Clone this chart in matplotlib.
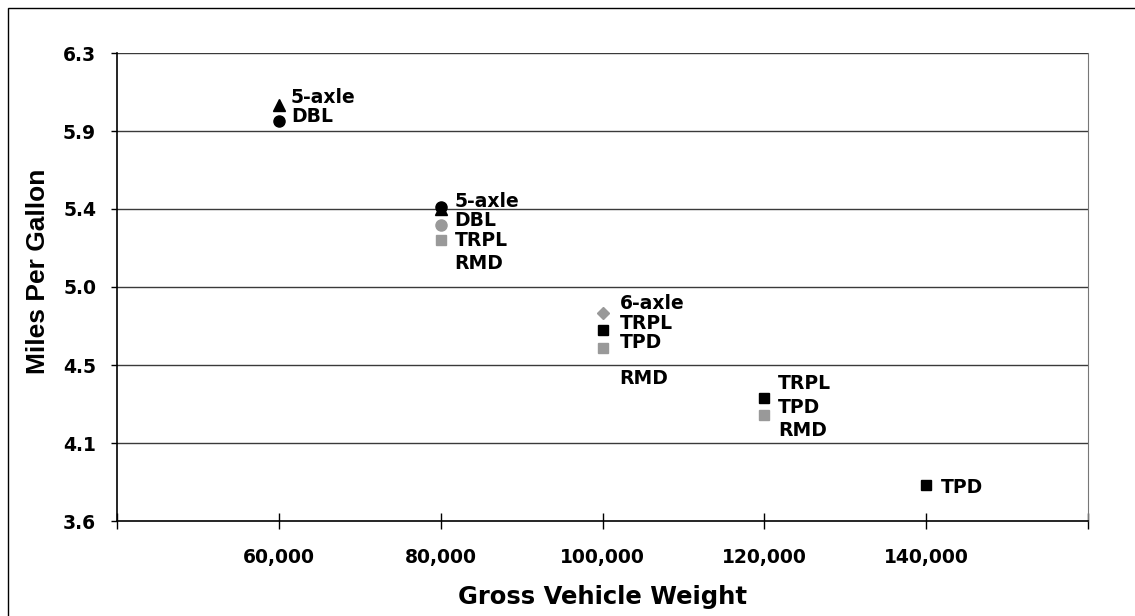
import matplotlib
matplotlib.use("Agg")
import matplotlib.pyplot as plt
import matplotlib.patches as patches
import numpy as np

plt.rcParams['font.family'] = ['DejaVu Sans']
plt.rcParams['font.weight'] = 'bold'

# data (mpg by gross vehicle weight)
tri_black_x = [60000, 80000]
tri_black_y = [6.00, 5.40]
circ_black_x = [60000, 80000]
circ_black_y = [5.91, 5.41]
circ_gray_x = [80000]
circ_gray_y = [5.31]
sq_gray_x = [80000, 100000, 120000]
sq_gray_y = [5.22, 4.60, 4.21]
sq_black_x = [100000, 120000, 140000]
sq_black_y = [4.70, 4.31, 3.81]
dia_gray_x = [100000]
dia_gray_y = [4.80]

label_weights = [60000, 80000, 100000, 120000, 140000]
label_texts = [
    ["5-axle", "DBL"],
    ["5-axle", "DBL", "TRPL", "RMD"],
    ["6-axle", "TRPL", "TPD", "RMD"],
    ["TRPL", "TPD", "RMD"],
    ["TPD"],
]

x_ticks = [40000, 60000, 80000, 100000, 120000, 140000, 160000]
x_tick_labels = ["", "60,000", "80,000", "100,000", "120,000", "140,000", ""]
y_tick_labels = ["3.6", "4.1", "4.5", "5.0", "5.4", "5.9", "6.3"]

# where the stacked labels sit (y in mpg units), layout only
label_anchor_y = [
    [6.046, 5.931],
    [5.442, 5.331, 5.221, 5.083],
    [4.852, 4.742, 4.628, 4.425],
    [4.396, 4.253, 4.125],
    [3.796],
]
label_dx = [12, 14, 17, 14, 15]

fig = plt.figure(figsize=(11.35, 6.16), dpi=100)
ax = fig.add_axes([117/1135, 1 - 521/616, (1088-117)/1135, (521-53)/616])

ax.set_xlim(40000, 160000)
ax.set_ylim(3.6, 6.3)
y_ticks = np.linspace(3.6, 6.3, 7)
ax.set_yticks(y_ticks)
ax.set_yticklabels(y_tick_labels)
ax.set_xticks(x_ticks)
ax.set_xticklabels(x_tick_labels)

for yv in y_ticks[1:]:
    ax.axhline(yv, color='#3a3a3a', lw=1.0, zorder=1)

ax.plot(tri_black_x, tri_black_y, ls='none', marker='^', ms=9, color='black', zorder=3)
ax.plot(circ_black_x, circ_black_y, ls='none', marker='o', ms=8, color='black', zorder=4)
ax.plot(circ_gray_x, circ_gray_y, ls='none', marker='o', ms=8, color='#999999', zorder=3)
ax.plot(sq_gray_x, sq_gray_y, ls='none', marker='s', ms=7, color='#999999', zorder=3)
ax.plot(sq_black_x, sq_black_y, ls='none', marker='s', ms=7, color='black', zorder=3)
ax.plot(dia_gray_x, dia_gray_y, ls='none', marker='D', ms=6, color='#999999', zorder=3)

for w, texts, ys, dx in zip(label_weights, label_texts, label_anchor_y, label_dx):
    for t, yv in zip(texts, ys):
        ax.annotate(t, xy=(w, yv), xytext=(dx * 0.72, 0), textcoords='offset points',
                    ha='left', va='center', fontsize=13.5, fontweight='bold', zorder=5)

ax.spines['top'].set_visible(False)
ax.spines['right'].set_color('#777777')
ax.spines['left'].set_color('black')
ax.spines['bottom'].set_color('black')
ax.spines['left'].set_linewidth(1.2)
ax.spines['bottom'].set_linewidth(1.2)

ax.tick_params(axis='x', direction='inout', length=11, width=1, pad=14, labelsize=13.5)
ax.tick_params(axis='y', direction='out', length=4, width=1, pad=11, labelsize=13.5)

ax.set_xlabel("Gross Vehicle Weight", fontsize=17.5, fontweight='bold')
ax.set_ylabel("Miles Per Gallon", fontsize=19, fontweight='bold',
              family=['Liberation Sans', 'DejaVu Sans'])
ax.xaxis.set_label_coords(0.5, -(597 - 521) / 468, transform=ax.transAxes)
ax.yaxis.set_label_coords(-(117 - 38) / 971, (521 - 271) / 468, transform=ax.transAxes)
ax.xaxis.label.set_va('center')
ax.yaxis.label.set_va('center')

# outer chart border (cropped at right and bottom)
fig.patches.append(patches.Rectangle((8/1135, -0.1), 1.2, 1 - 8/616 + 0.1,
                                     transform=fig.transFigure, fill=False,
                                     edgecolor='black', lw=1.0))

fig.savefig("out.png", dpi=100)
